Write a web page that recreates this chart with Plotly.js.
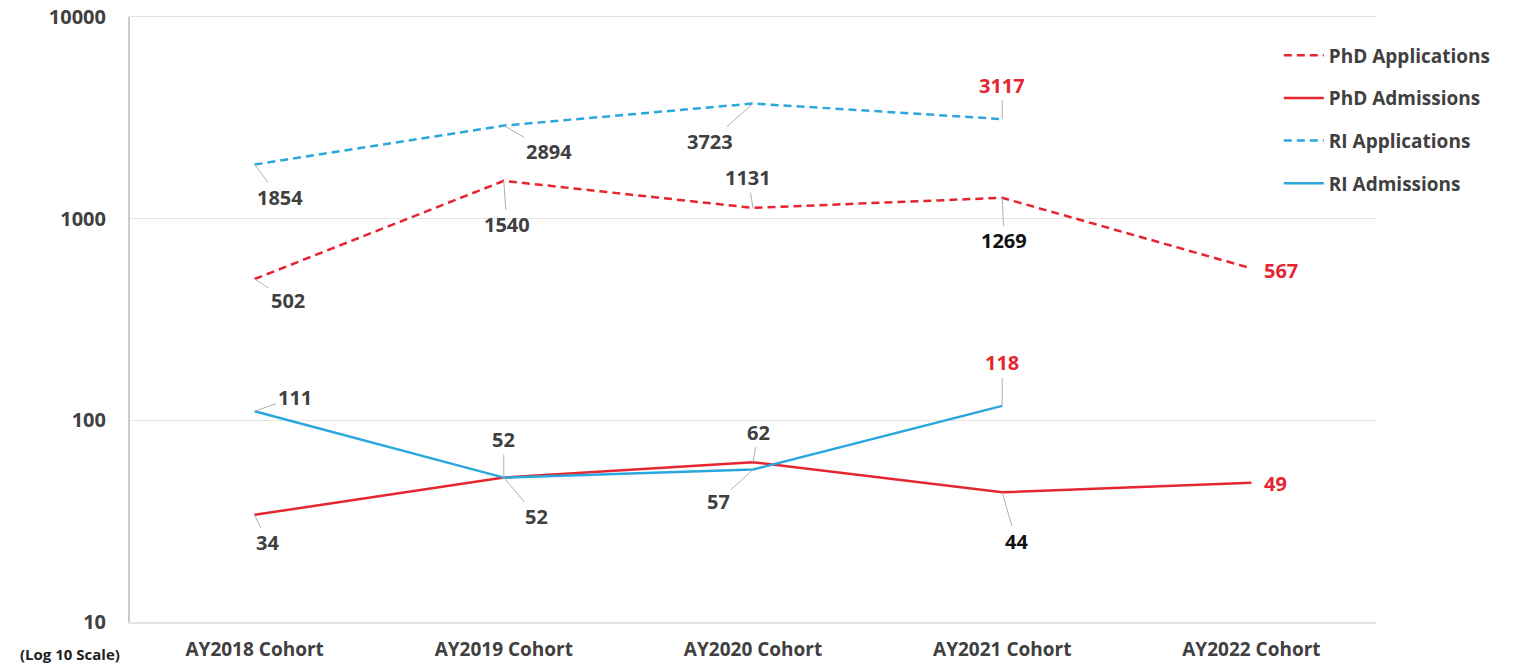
<!DOCTYPE html>
<html>
<head>
<meta charset="utf-8">
<script src="https://cdn.plot.ly/plotly-3.0.1.min.js"></script>
<style>html,body{margin:0;padding:0;background:#fff;}#chart{width:1522px;height:665px;}</style>
</head>
<body>
<div id="chart"></div>
<script>
const categories = ["AY2018 Cohort", "AY2019 Cohort", "AY2020 Cohort", "AY2021 Cohort", "AY2022 Cohort"];
const phdApplications = [502, 1540, 1131, 1269, 567];
const phdAdmissions = [34, 52, 62, 44, 49];
const riApplications = [1854, 2894, 3723, 3117, null];
const riAdmissions = [111, 52, 57, 118, null];
const yTickValues = [10, 100, 1000, 10000];
const yTickLabels = ["10", "100", "1000", "10000"];

const RED = "#e5262f";
const BLUE = "#2ba7dd";
const GREY = "#404040";
const FONT = "Open Sans, Liberation Sans, sans-serif";

const traces = [
  {name: "PhD Applications", y: phdApplications, line: {color: RED, width: 2.5, dash: "8px,5px"}, legendgroup: "a"},
  {name: "PhD Admissions", y: phdAdmissions, line: {color: RED, width: 2.5}, legendgroup: "b"},
  {name: "RI Applications", y: riApplications, line: {color: BLUE, width: 2.5, dash: "8px,5px"}, legendgroup: "c"},
  {name: "RI Admissions", y: riAdmissions, line: {color: BLUE, width: 2.5}, legendgroup: "d"}
].map(t => Object.assign({x: categories, type: "scatter", mode: "lines", hoverinfo: "skip"}, t));

// label placement (pixel offsets from point) per series / category
const labelStyle = {
  0: [{ax: 33, ay: 21}, {ax: 3, ay: 44}, {ax: -5, ay: -30}, {ax: 2, ay: 43, c: "#111"}, {ax: 30, ay: 2, c: RED, noArrow: true}],
  1: [{ax: 13, ay: 28}, {ax: 33, ay: 39}, {ax: 5, ay: -30}, {ax: 14, ay: 49, c: "#111"}, {ax: 24, ay: 1, c: RED, noArrow: true}],
  2: [{ax: 25, ay: 33}, {ax: 45, ay: 26}, {ax: -43, ay: 38}, {ax: 0, ay: -34, c: RED}, null],
  3: [{ax: 40, ay: -14}, {ax: 0, ay: -38}, {ax: -35, ay: 32}, {ax: 0, ay: -43, c: RED}, null]
};

const annotations = [];
traces.forEach((t, si) => {
  t.y.forEach((v, ci) => {
    const s = labelStyle[si][ci];
    if (v === null || !s) return;
    annotations.push({
      x: ci, y: Math.log10(v), xref: "x", yref: "y",
      text: "<b>" + v + "</b>",
      showarrow: !s.noArrow,
      ax: s.ax, ay: s.ay,
      xshift: s.noArrow ? s.ax : 0,
      yshift: s.noArrow ? -s.ay : 0,
      arrowhead: 0, arrowwidth: 1, arrowcolor: "#b0b0b0", standoff: 0,
      font: {family: FONT, size: 20, color: s.c || GREY}
    });
  });
});
annotations.push({
  x: 0, y: 0, xref: "paper", yref: "paper", xanchor: "right", yanchor: "top",
  xshift: -8, yshift: -20,
  text: "<b>(Log 10 Scale)</b>", showarrow: false,
  font: {family: FONT, size: 15, color: "#222"}
});

const layout = {
  width: 1522, height: 665,
  margin: {l: 130, r: 146, t: 17, b: 43},
  paper_bgcolor: "#fff", plot_bgcolor: "#fff",
  showlegend: true,
  legend: {
    x: 0.922, y: 0.968, xanchor: "left", yanchor: "top",
    bgcolor: "rgba(0,0,0,0)", traceorder: "grouped", tracegroupgap: 15,
    itemwidth: 40,
    font: {family: FONT, size: 19, color: GREY, weight: "bold"}
  },
  xaxis: {
    type: "category", range: [-0.5, 4.5],
    showgrid: false, zeroline: false, showline: true, mirror: true,
    linecolor: "#e4e4e4", linewidth: 1.5, ticks: "",
    ticklabelstandoff: 10,
    tickfont: {family: FONT, size: 19, color: GREY, weight: "bold"}
  },
  yaxis: {
    type: "log", range: [1, 4],
    tickvals: yTickValues, ticktext: yTickLabels,
    showgrid: true, gridcolor: "#e4e4e4", gridwidth: 1.5,
    zeroline: false, showline: true, linecolor: "#c8cad8", linewidth: 2,
    ticks: "", ticklabelstandoff: 18,
    tickfont: {family: FONT, size: 20, color: GREY, weight: "bold"}
  },
  annotations: annotations
};

Plotly.newPlot("chart", traces, layout, {displayModeBar: false, staticPlot: true});
</script>
</body>
</html>
